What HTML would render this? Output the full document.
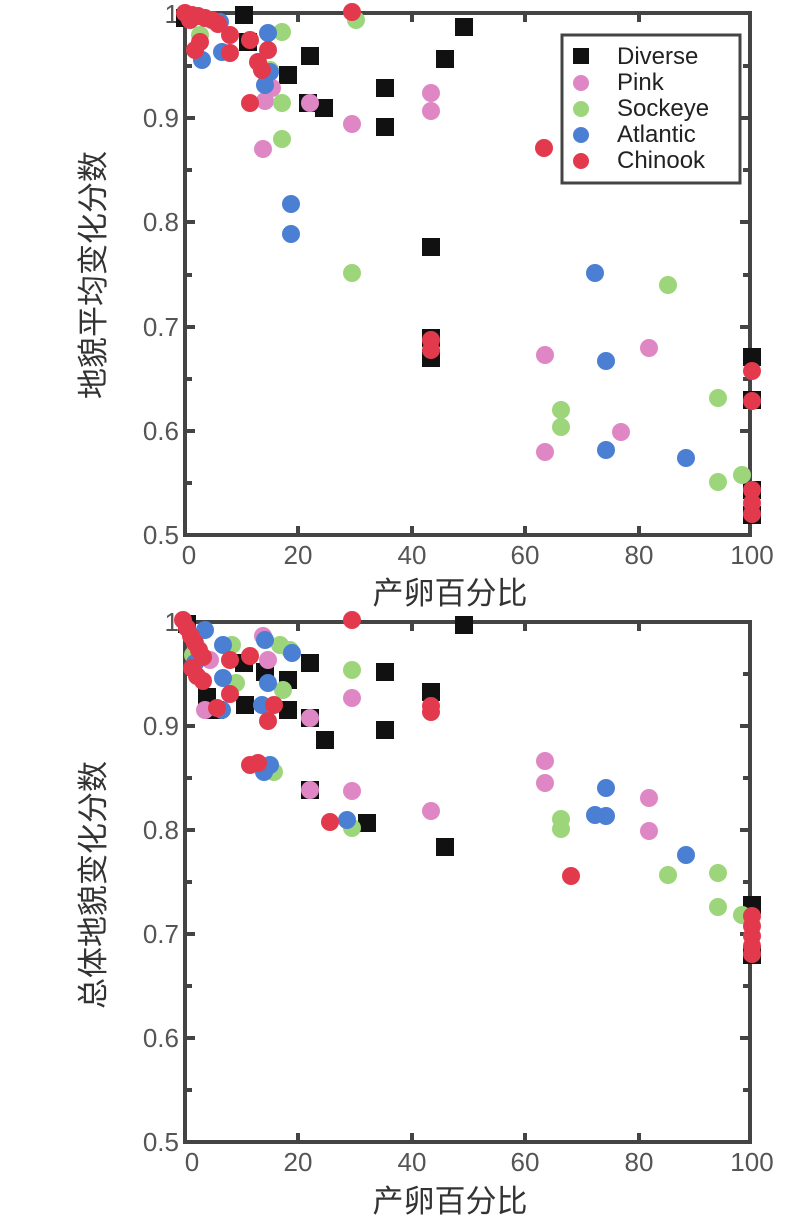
<!DOCTYPE html>
<html><head><meta charset="utf-8"><style>
html,body{margin:0;padding:0;background:#fff;}
svg{display:block;font-family:"Liberation Sans","Noto Sans CJK SC",sans-serif;}
</style></head><body>
<svg width="804" height="1226" viewBox="0 0 804 1226" xmlns="http://www.w3.org/2000/svg">
<!-- TOP PLOT -->
<g id="top">
<rect x="185" y="13" width="565" height="522" fill="none" stroke="#444" stroke-width="4"/>
<g stroke="#444" stroke-width="4">
<line x1="185" y1="66" x2="192" y2="66"/><line x1="185" y1="118" x2="195" y2="118"/><line x1="185" y1="170" x2="192" y2="170"/><line x1="185" y1="222" x2="195" y2="222"/><line x1="185" y1="275" x2="192" y2="275"/><line x1="185" y1="327" x2="195" y2="327"/><line x1="185" y1="379" x2="192" y2="379"/><line x1="185" y1="431" x2="195" y2="431"/><line x1="185" y1="483" x2="192" y2="483"/>
<line x1="750" y1="66" x2="743" y2="66"/><line x1="750" y1="118" x2="740" y2="118"/><line x1="750" y1="170" x2="743" y2="170"/><line x1="750" y1="222" x2="740" y2="222"/><line x1="750" y1="275" x2="743" y2="275"/><line x1="750" y1="327" x2="740" y2="327"/><line x1="750" y1="379" x2="743" y2="379"/><line x1="750" y1="431" x2="740" y2="431"/><line x1="750" y1="483" x2="743" y2="483"/>
<line x1="298" y1="13" x2="298" y2="22"/><line x1="412" y1="13" x2="412" y2="22"/><line x1="525" y1="13" x2="525" y2="22"/><line x1="639" y1="13" x2="639" y2="22"/>
<line x1="298" y1="535" x2="298" y2="526"/><line x1="412" y1="535" x2="412" y2="526"/><line x1="525" y1="535" x2="525" y2="526"/><line x1="639" y1="535" x2="639" y2="526"/>
</g>
<g fill="#555" font-size="26" text-anchor="end">
<text x="179" y="23">1</text><text x="179" y="127">0.9</text><text x="179" y="231">0.8</text><text x="179" y="336">0.7</text><text x="179" y="440">0.6</text><text x="179" y="544">0.5</text>
</g>
<g fill="#555" font-size="26" text-anchor="middle">
<text x="189" y="564">0</text><text x="298" y="564">20</text><text x="412" y="564">40</text><text x="525" y="564">60</text><text x="639" y="564">80</text><text x="752" y="564">100</text>
</g>
<text x="450" y="604" font-size="31" fill="#333" text-anchor="middle">产卵百分比</text>
<text transform="translate(104,275) rotate(-90)" font-size="31" fill="#333" text-anchor="middle">地貌平均变化分数</text>
<g fill="#111">
<rect x="176" y="9" width="18" height="18"/><rect x="235" y="6" width="18" height="18"/><rect x="239" y="33" width="18" height="18"/><rect x="301" y="47" width="18" height="18"/><rect x="279" y="66" width="18" height="18"/><rect x="299" y="94" width="18" height="18"/><rect x="315" y="99" width="18" height="18"/><rect x="376" y="79" width="18" height="18"/><rect x="376" y="118" width="18" height="18"/><rect x="422" y="238" width="18" height="18"/><rect x="436" y="50" width="18" height="18"/><rect x="455" y="18" width="18" height="18"/><rect x="422" y="329" width="18" height="18"/><rect x="422" y="349" width="18" height="18"/><rect x="743" y="348" width="18" height="18"/><rect x="743" y="391" width="18" height="18"/><rect x="743" y="481" width="18" height="18"/><rect x="743" y="506" width="18" height="18"/>
</g>
<g fill="#df86c4">
<circle cx="263" cy="149" r="9"/><circle cx="265" cy="101" r="9"/><circle cx="310" cy="103" r="9"/><circle cx="352" cy="124" r="9"/><circle cx="431" cy="93" r="9"/><circle cx="431" cy="111" r="9"/><circle cx="545" cy="355" r="9"/><circle cx="545" cy="452" r="9"/><circle cx="621" cy="432" r="9"/><circle cx="649" cy="348" r="9"/><circle cx="272" cy="88" r="9"/>
</g>
<g fill="#9dd67a">
<circle cx="282" cy="32" r="9"/><circle cx="356" cy="20" r="9"/><circle cx="282" cy="103" r="9"/><circle cx="282" cy="139" r="9"/><circle cx="352" cy="273" r="9"/><circle cx="561" cy="410" r="9"/><circle cx="561" cy="427" r="9"/><circle cx="668" cy="285" r="9"/><circle cx="718" cy="398" r="9"/><circle cx="718" cy="482" r="9"/><circle cx="742" cy="475" r="9"/><circle cx="270" cy="70" r="9"/><circle cx="200" cy="35" r="9"/>
</g>
<g fill="#4a7fd4">
<circle cx="202" cy="60" r="9"/><circle cx="222" cy="52" r="9"/><circle cx="268" cy="33" r="9"/><circle cx="265" cy="85" r="9"/><circle cx="291" cy="204" r="9"/><circle cx="291" cy="234" r="9"/><circle cx="595" cy="273" r="9"/><circle cx="606" cy="361" r="9"/><circle cx="606" cy="450" r="9"/><circle cx="686" cy="458" r="9"/><circle cx="220" cy="22" r="9"/><circle cx="270" cy="72" r="9"/>
</g>
<g fill="#e23a4c">
<circle cx="185" cy="13" r="9"/><circle cx="192" cy="15" r="9"/><circle cx="198" cy="16" r="9"/><circle cx="205" cy="18" r="9"/><circle cx="212" cy="20" r="9"/><circle cx="218" cy="24" r="9"/><circle cx="190" cy="20" r="9"/><circle cx="200" cy="42" r="9"/><circle cx="195" cy="50" r="9"/><circle cx="230" cy="35" r="9"/><circle cx="230" cy="53" r="9"/><circle cx="250" cy="40" r="9"/><circle cx="268" cy="50" r="9"/><circle cx="258" cy="62" r="9"/><circle cx="262" cy="70" r="9"/><circle cx="250" cy="103" r="9"/><circle cx="352" cy="12" r="9"/><circle cx="544" cy="148" r="9"/><circle cx="431" cy="340" r="9"/><circle cx="431" cy="350" r="9"/><circle cx="752" cy="371" r="9"/><circle cx="752" cy="401" r="9"/><circle cx="752" cy="490" r="9"/><circle cx="752" cy="503" r="9"/><circle cx="752" cy="514" r="9"/>
</g>
<rect x="562" y="35" width="178" height="148" fill="#fff" stroke="#444" stroke-width="3"/>
<rect x="573" y="48" width="16" height="16" fill="#111"/>
<circle cx="581" cy="83" r="8" fill="#df86c4"/>
<circle cx="581" cy="109" r="8" fill="#9dd67a"/>
<circle cx="581" cy="135" r="8" fill="#4a7fd4"/>
<circle cx="581" cy="161" r="8" fill="#e23a4c"/>
<g font-size="24" fill="#222">
<text x="617" y="64">Diverse</text><text x="617" y="90">Pink</text><text x="617" y="116">Sockeye</text><text x="617" y="142">Atlantic</text><text x="617" y="168">Chinook</text>
</g>
</g>

<!-- BOTTOM PLOT -->
<g>
<rect x="185" y="622" width="565" height="520" fill="none" stroke="#444" stroke-width="4"/>
<g stroke="#444" stroke-width="4">
<line x1="185" y1="674" x2="192" y2="674"/><line x1="185" y1="726" x2="195" y2="726"/><line x1="185" y1="778" x2="192" y2="778"/><line x1="185" y1="830" x2="195" y2="830"/><line x1="185" y1="882" x2="192" y2="882"/><line x1="185" y1="934" x2="195" y2="934"/><line x1="185" y1="986" x2="192" y2="986"/><line x1="185" y1="1038" x2="195" y2="1038"/><line x1="185" y1="1090" x2="192" y2="1090"/>
<line x1="750" y1="674" x2="743" y2="674"/><line x1="750" y1="726" x2="740" y2="726"/><line x1="750" y1="778" x2="743" y2="778"/><line x1="750" y1="830" x2="740" y2="830"/><line x1="750" y1="882" x2="743" y2="882"/><line x1="750" y1="934" x2="740" y2="934"/><line x1="750" y1="986" x2="743" y2="986"/><line x1="750" y1="1038" x2="740" y2="1038"/><line x1="750" y1="1090" x2="743" y2="1090"/>
<line x1="298" y1="622" x2="298" y2="631"/><line x1="412" y1="622" x2="412" y2="631"/><line x1="525" y1="622" x2="525" y2="631"/><line x1="639" y1="622" x2="639" y2="631"/>
<line x1="298" y1="1142" x2="298" y2="1133"/><line x1="412" y1="1142" x2="412" y2="1133"/><line x1="525" y1="1142" x2="525" y2="1133"/><line x1="639" y1="1142" x2="639" y2="1133"/>
</g>
<g fill="#555" font-size="26" text-anchor="end">
<text x="179" y="631">1</text><text x="179" y="735">0.9</text><text x="179" y="839">0.8</text><text x="179" y="943">0.7</text><text x="179" y="1047">0.6</text><text x="179" y="1151">0.5</text>
</g>
<g fill="#555" font-size="26" text-anchor="middle">
<text x="192" y="1171">0</text><text x="298" y="1171">20</text><text x="412" y="1171">40</text><text x="525" y="1171">60</text><text x="639" y="1171">80</text><text x="752" y="1171">100</text>
</g>
<text x="450" y="1212" font-size="31" fill="#333" text-anchor="middle">产卵百分比</text>
<text transform="translate(104,885) rotate(-90)" font-size="31" fill="#333" text-anchor="middle">总体地貌变化分数</text>
<g fill="#111">
<rect x="178" y="615" width="18" height="18"/><rect x="198" y="688" width="18" height="18"/><rect x="206" y="701" width="18" height="18"/><rect x="236" y="696" width="18" height="18"/><rect x="235" y="654" width="18" height="18"/><rect x="256" y="663" width="18" height="18"/><rect x="279" y="671" width="18" height="18"/><rect x="279" y="701" width="18" height="18"/><rect x="301" y="654" width="18" height="18"/><rect x="301" y="709" width="18" height="18"/><rect x="316" y="731" width="18" height="18"/><rect x="301" y="781" width="18" height="18"/><rect x="358" y="814" width="18" height="18"/><rect x="376" y="663" width="18" height="18"/><rect x="376" y="721" width="18" height="18"/><rect x="422" y="683" width="18" height="18"/><rect x="436" y="838" width="18" height="18"/><rect x="455" y="616" width="18" height="18"/><rect x="743" y="896" width="18" height="18"/><rect x="743" y="946" width="18" height="18"/>
</g>
<g fill="#df86c4">
<circle cx="263" cy="636" r="9"/><circle cx="268" cy="660" r="9"/><circle cx="310" cy="718" r="9"/><circle cx="310" cy="790" r="9"/><circle cx="352" cy="698" r="9"/><circle cx="352" cy="791" r="9"/><circle cx="431" cy="811" r="9"/><circle cx="545" cy="761" r="9"/><circle cx="545" cy="783" r="9"/><circle cx="649" cy="798" r="9"/><circle cx="649" cy="831" r="9"/><circle cx="205" cy="710" r="9"/><circle cx="210" cy="660" r="9"/>
</g>
<g fill="#9dd67a">
<circle cx="193" cy="655" r="9"/><circle cx="232" cy="645" r="9"/><circle cx="236" cy="683" r="9"/><circle cx="280" cy="645" r="9"/><circle cx="283" cy="690" r="9"/><circle cx="290" cy="650" r="9"/><circle cx="274" cy="772" r="9"/><circle cx="352" cy="670" r="9"/><circle cx="352" cy="828" r="9"/><circle cx="561" cy="819" r="9"/><circle cx="561" cy="829" r="9"/><circle cx="668" cy="875" r="9"/><circle cx="718" cy="873" r="9"/><circle cx="718" cy="907" r="9"/><circle cx="742" cy="915" r="9"/>
</g>
<g fill="#4a7fd4">
<circle cx="205" cy="630" r="9"/><circle cx="223" cy="645" r="9"/><circle cx="223" cy="678" r="9"/><circle cx="265" cy="640" r="9"/><circle cx="292" cy="653" r="9"/><circle cx="268" cy="683" r="9"/><circle cx="262" cy="705" r="9"/><circle cx="270" cy="765" r="9"/><circle cx="264" cy="772" r="9"/><circle cx="347" cy="820" r="9"/><circle cx="595" cy="815" r="9"/><circle cx="606" cy="788" r="9"/><circle cx="606" cy="816" r="9"/><circle cx="686" cy="855" r="9"/><circle cx="222" cy="710" r="9"/><circle cx="195" cy="663" r="9"/>
</g>
<g fill="#e23a4c">
<circle cx="183" cy="620" r="9"/><circle cx="187" cy="628" r="9"/><circle cx="191" cy="636" r="9"/><circle cx="195" cy="643" r="9"/><circle cx="199" cy="650" r="9"/><circle cx="203" cy="657" r="9"/><circle cx="192" cy="668" r="9"/><circle cx="197" cy="676" r="9"/><circle cx="203" cy="681" r="9"/><circle cx="230" cy="660" r="9"/><circle cx="250" cy="656" r="9"/><circle cx="230" cy="694" r="9"/><circle cx="217" cy="708" r="9"/><circle cx="274" cy="705" r="9"/><circle cx="268" cy="721" r="9"/><circle cx="250" cy="765" r="9"/><circle cx="258" cy="763" r="9"/><circle cx="330" cy="822" r="9"/><circle cx="352" cy="620" r="9"/><circle cx="431" cy="706" r="9"/><circle cx="431" cy="712" r="9"/><circle cx="571" cy="876" r="9"/><circle cx="752" cy="916" r="9"/><circle cx="752" cy="926" r="9"/><circle cx="752" cy="936" r="9"/><circle cx="752" cy="946" r="9"/><circle cx="752" cy="954" r="9"/>
</g>
</g>
</svg>
</body></html>
